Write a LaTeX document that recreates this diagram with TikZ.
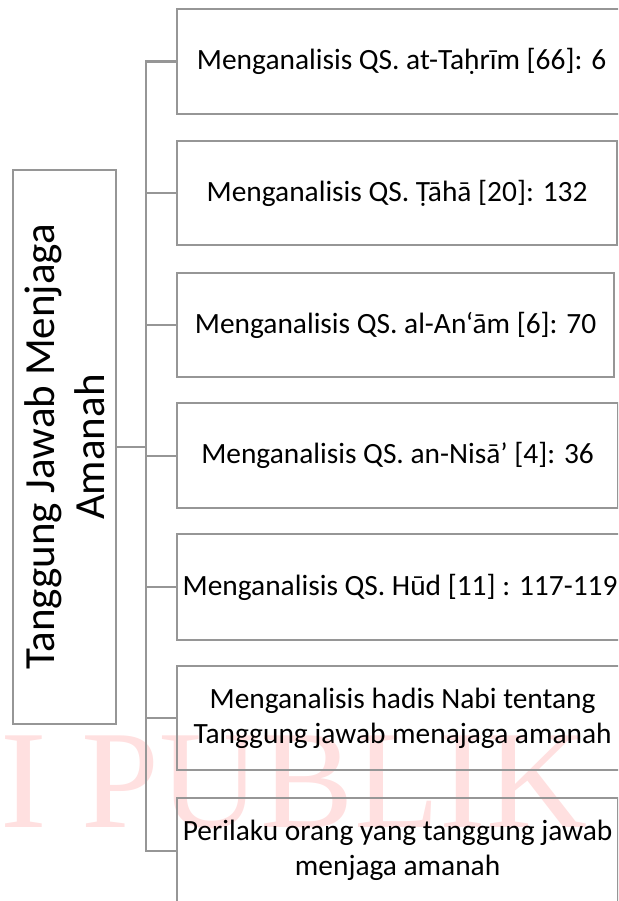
\documentclass[tikz,border=0pt]{standalone}
\usepackage{fontspec}
\setmainfont{Carlito}
\newfontfamily\wmfont{Liberation Serif}
\definecolor{linegray}{RGB}{150,150,150}
\definecolor{wmpink}{RGB}{255,224,224}
\tikzset{
  box/.style={draw=linegray, line width=2.2pt, anchor=north west, minimum height=105pt, inner sep=0pt, align=center, font=\fontsize{29.4}{35.3}\selectfont},
  rootbox/.style={draw=linegray, line width=2.2pt, anchor=north west, minimum width=103pt, minimum height=554pt, inner sep=0pt},
  conn/.style={draw=linegray, line width=2.2pt}
}
\begin{document}
\begin{tikzpicture}[x=1pt,y=-1pt]
\useasboundingbox (0,0) rectangle (618,901);
\clip (0,0) rectangle (618,901);
\node[anchor=base west, inner sep=0pt, text=wmpink, font=\wmfont\fontsize{140}{140}\selectfont] (wm) at (0,827) {I PUBLIK};
\node[rootbox] (root) at (12,169) {};
\node[rotate=90, align=center, font=\fontsize{43}{50}\selectfont] (rootlabel) at (root.center) {Tanggung Jawab Menjaga\\Amanah};
\node[box, minimum width=449pt] (b1) at (176,8) {Menganalisis QS. at-Taḥrīm [66]: 6};
\node[box, minimum width=440pt, minimum height=104pt] (b2) at (176,140) {Menganalisis QS. Ṭāhā [20]: 132};
\node[box, minimum width=437pt, minimum height=104pt] (b3) at (176,272) {Menganalisis QS. al-An‘ām [6]: 70};
\node[box, minimum width=441pt] (b4) at (176,402) {Menganalisis QS. an-Nisā’ [4]: 36};
\node[box, minimum width=446pt, minimum height=106pt] (b5) at (176,533) {Menganalisis QS. Hūd [11] : 117-119};
\node[box, minimum width=451pt, minimum height=104pt] (b6) at (176,665) {Menganalisis hadis Nabi tentang\\Tanggung jawab menajaga amanah};
\node[box, minimum width=441pt, minimum height=105pt] (b7) at (176,797) {Perilaku orang yang tanggung jawab\\menjaga amanah};
\coordinate (t) at (146,0);
\draw[conn] (b1.west) -- (b1.west -| t) -- (b7.west -| t) -- (b7.west);
\foreach \b in {b2,b3,b4,b5,b6} {
  \draw[conn] (\b.west) -- (\b.west -| t);
}
\draw[conn] (root.east) -- (root.east -| t);
\end{tikzpicture}
\end{document}
